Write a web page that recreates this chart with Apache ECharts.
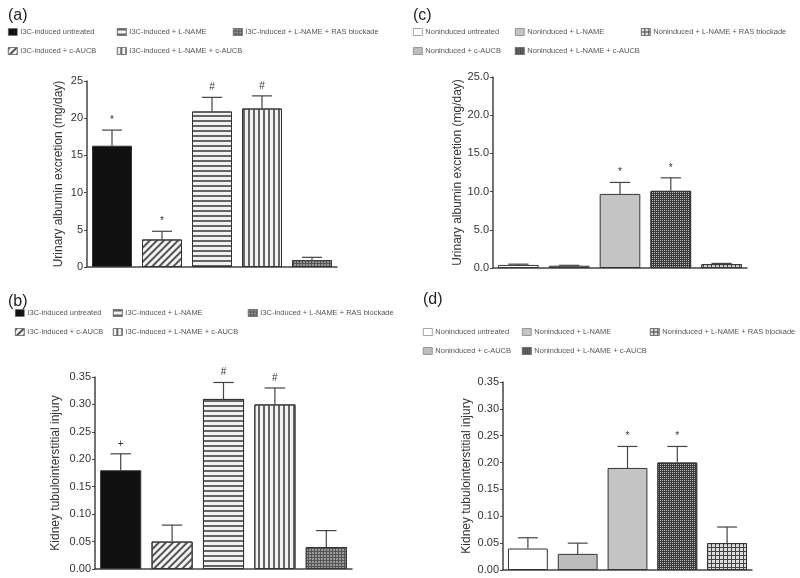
<!DOCTYPE html>
<html>
<head>
<meta charset="utf-8">
<script src="https://cdn.jsdelivr.net/npm/echarts@6/dist/echarts.min.js"></script>
<style>html,body{margin:0;padding:0;background:#fff}#c{width:800px;height:578px}</style>
</head>
<body>
<div id="c"></div>
<script>
// ---- data ----
const groupsI3C = ['I3C-induced untreated', 'I3C-induced + c-AUCB', 'I3C-induced + L-NAME', 'I3C-induced + L-NAME + c-AUCB', 'I3C-induced + L-NAME + RAS blockade'];
const groupsNon = ['Noninduced untreated', 'Noninduced + c-AUCB', 'Noninduced + L-NAME', 'Noninduced + L-NAME + c-AUCB', 'Noninduced + L-NAME + RAS blockade'];
const legendOrderI3C = ['I3C-induced untreated', 'I3C-induced + L-NAME', 'I3C-induced + L-NAME + RAS blockade', 'I3C-induced + c-AUCB', 'I3C-induced + L-NAME + c-AUCB'];
const legendOrderNon = ['Noninduced untreated', 'Noninduced + L-NAME', 'Noninduced + L-NAME + RAS blockade', 'Noninduced + c-AUCB', 'Noninduced + L-NAME + c-AUCB'];

const albuminI3C = [16.3, 3.7, 20.9, 21.3, 0.9];
const albuminI3CErr = [2.1, 1.1, 1.9, 1.7, 0.4];
const albuminNon = [0.4, 0.3, 9.7, 10.1, 0.5];
const albuminNonErr = [0.1, 0.05, 1.5, 1.7, 0.1];
const injuryI3C = [0.18, 0.05, 0.31, 0.30, 0.04];
const injuryI3CErr = [0.03, 0.03, 0.03, 0.03, 0.03];
const injuryNon = [0.04, 0.03, 0.19, 0.20, 0.05];
const injuryNonErr = [0.02, 0.02, 0.04, 0.03, 0.03];

const marksA = ['*', '*', '#', '#', ''];
const marksB = ['+', '', '#', '#', ''];
const marksC = ['', '', '*', '*', ''];
const marksD = ['', '', '*', '*', ''];

const panelTitles = ['(a)', '(b)', '(c)', '(d)'];
const yNames = ['Urinary albumin excretion (mg/day)', 'Kidney tubulointerstitial injury', 'Urinary albumin excretion (mg/day)', 'Kidney tubulointerstitial injury'];

// ---- styles ----
const FONT = 'Liberation Sans, Arial, sans-serif';
const lines = (rot, col, bg) => ({ color: bg, decal: { symbol: 'rect', dashArrayX: [1, 0], dashArrayY: [1.2, 2.3], rotation: rot, color: col, symbolSize: 1 } });
const stylesI3C = [
  { color: '#111' },
  lines(-Math.PI / 4, '#555', '#f4f4f4'),
  lines(0, '#666', '#f2f2f2'),
  lines(Math.PI / 2, '#666', '#f2f2f2'),
  { color: '#555', decal: { symbol: 'rect', dashArrayX: [2, 1], dashArrayY: [2, 1], color: '#999', symbolSize: 1 } }
];
const stylesNon = [
  { color: '#fff' },
  { color: '#bdbdbd' },
  { color: '#c4c4c4' },
  { color: '#3a3a3a', decal: { symbol: 'rect', dashArrayX: [1, 1], dashArrayY: [1, 1], color: '#bbb', symbolSize: 1 } },
  { color: '#444', decal: { symbol: 'rect', dashArrayX: [2.5, 1], dashArrayY: [2.5, 1], color: '#ddd', symbolSize: 1 } }
];

const panels = [
  { groups: groupsI3C, styles: stylesI3C, vals: albuminI3C, errs: albuminI3CErr, marks: marksA, max: 25, interval: 5, dec: 0,
    grid: { left: 87, right: 463, top: 81, bottom: 311 }, nameGap: 22, title: [8, 8] },
  { groups: groupsI3C, styles: stylesI3C, vals: injuryI3C, errs: injuryI3CErr, marks: marksB, max: 0.35, interval: 0.05, dec: 2,
    grid: { left: 95, right: 448, top: 377, bottom: 9 }, nameGap: 33, title: [8, 294] },
  { groups: groupsNon, styles: stylesNon, vals: albuminNon, errs: albuminNonErr, marks: marksC, max: 25, interval: 5, dec: 1,
    grid: { left: 493, right: 53, top: 77, bottom: 310 }, nameGap: 25, title: [413, 8] },
  { groups: groupsNon, styles: stylesNon, vals: injuryNon, errs: injuryNonErr, marks: marksD, max: 0.35, interval: 0.05, dec: 2,
    grid: { left: 503, right: 48, top: 382, bottom: 8 }, nameGap: 30, title: [423, 292] }
];

// legend placement per panel (left, top) in legend order
const legendPos = [
  [[8, 28], [117, 28], [233, 28], [8, 47], [117, 47]],
  [[15, 309], [113, 309], [248, 309], [15, 328], [113, 328]],
  [[413, 28], [515, 28], [641, 28], [413, 47], [515, 47]],
  [[423, 328], [522, 328], [650, 328], [423, 347], [522, 347]]
];
const legendOrders = [legendOrderI3C, legendOrderI3C, legendOrderNon, legendOrderNon];

const option = {
  animation: false,
  backgroundColor: '#fff',
  textStyle: { fontFamily: FONT },
  title: panels.map((p, k) => ({ text: panelTitles[k], left: p.title[0], top: p.title[1], padding: 0,
    textStyle: { fontFamily: FONT, fontSize: 16, fontWeight: 'normal', color: '#222' } })),
  legend: [],
  grid: panels.map(p => Object.assign({ containLabel: false }, p.grid)),
  xAxis: panels.map((p, k) => ({ type: 'category', gridIndex: k, data: p.groups,
    axisLabel: { show: false }, axisTick: { show: false },
    axisLine: { lineStyle: { color: '#444', width: 1.5 } } })),
  yAxis: panels.map((p, k) => ({ type: 'value', gridIndex: k, min: 0, max: p.max, interval: p.interval,
    name: yNames[k], nameLocation: 'middle', nameGap: p.nameGap,
    nameTextStyle: { fontFamily: FONT, fontSize: 12, color: '#333' },
    axisLine: { show: true, lineStyle: { color: '#444', width: 1.5 } },
    axisTick: { show: true, length: 3, lineStyle: { color: '#444' } },
    splitLine: { show: false },
    axisLabel: { fontFamily: FONT, fontSize: 11, color: '#333', margin: 4,
      formatter: v => v.toFixed(p.dec) } })),
  series: []
};

panels.forEach((p, k) => {
  legendOrders[k].forEach((name, j) => {
    option.legend.push({ data: [name], left: legendPos[k][j][0], top: legendPos[k][j][1], padding: 0,
      icon: 'rect', itemWidth: 9, itemHeight: 7, itemGap: 0, selectedMode: false,
      itemStyle: { borderWidth: 0.6, borderColor: '#666' },
      textStyle: { fontFamily: FONT, fontSize: 7.5, color: '#555', padding: [0, 0, 0, -2] } });
  });
  p.groups.forEach((g, i) => {
    option.series.push({
      type: 'bar', name: g, xAxisIndex: k, yAxisIndex: k, stack: 'p' + k, barCategoryGap: '20%',
      itemStyle: Object.assign({ borderColor: '#333', borderWidth: 1 }, p.styles[i]),
      data: p.vals.map((v, j) => (j === i ? v : '-'))
    });
  });
  option.series.push({
    type: 'custom', xAxisIndex: k, yAxisIndex: k, z: 5,
    data: p.vals.map((v, j) => [j, v, v + p.errs[j]]),
    renderItem: (params, api) => {
      const base = api.coord([api.value(0), api.value(1)]);
      const top = api.coord([api.value(0), api.value(2)]);
      const half = api.size([1, 0])[0] * 0.2;
      const mark = p.marks[params.dataIndex];
      const children = [
        { type: 'line', shape: { x1: base[0], y1: base[1], x2: top[0], y2: top[1] }, style: { stroke: '#444', lineWidth: 1.2 } },
        { type: 'line', shape: { x1: top[0] - half, y1: top[1], x2: top[0] + half, y2: top[1] }, style: { stroke: '#444', lineWidth: 1.2 } }
      ];
      if (mark) children.push({ type: 'text', x: top[0], y: top[1] - 10,
        style: { text: mark, fill: '#333', fontSize: 10, fontFamily: FONT, align: 'center', verticalAlign: 'middle' } });
      return { type: 'group', children };
    }
  });
});

const chart = echarts.init(document.getElementById('c'), null, { renderer: 'canvas' });
chart.setOption(option);
</script>
</body>
</html>
